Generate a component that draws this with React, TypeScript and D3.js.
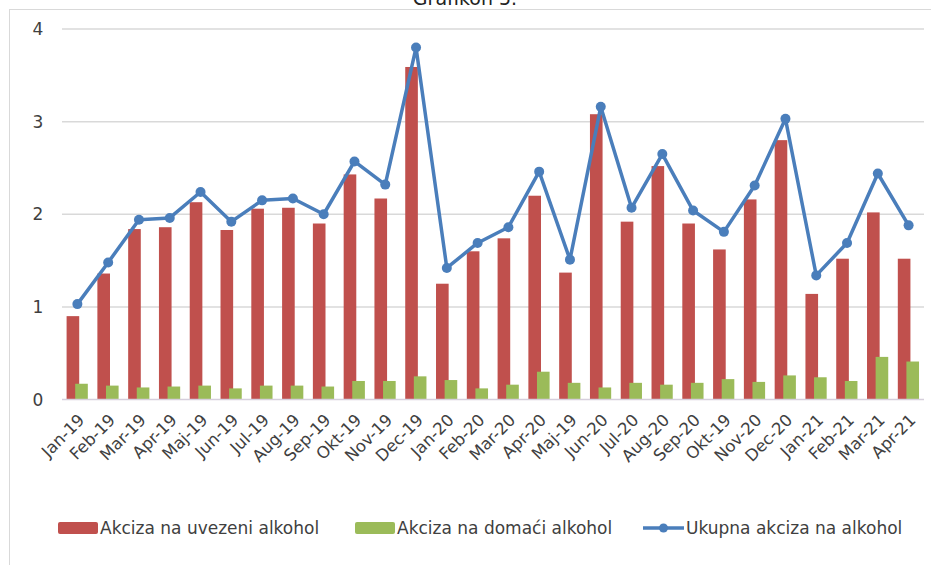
import React from "react";
import * as d3 from "d3";

const categories = [
  "Jan-19", "Feb-19", "Mar-19", "Apr-19", "Maj-19", "Jun-19", "Jul-19", "Aug-19",
  "Sep-19", "Okt-19", "Nov-19", "Dec-19", "Jan-20", "Feb-20", "Mar-20", "Apr-20",
  "Maj-19", "Jun-20", "Jul-20", "Aug-20", "Sep-20", "Okt-19", "Nov-20", "Dec-20",
  "Jan-21", "Feb-21", "Mar-21", "Apr-21",
];

const imported = [
  0.9, 1.36, 1.84, 1.86, 2.13, 1.83, 2.06, 2.07, 1.9, 2.43, 2.17, 3.59, 1.25, 1.6,
  1.74, 2.2, 1.37, 3.08, 1.92, 2.52, 1.9, 1.62, 2.16, 2.8, 1.14, 1.52, 2.02, 1.52,
];

const domestic = [
  0.17, 0.15, 0.13, 0.14, 0.15, 0.12, 0.15, 0.15, 0.14, 0.2, 0.2, 0.25, 0.21, 0.12,
  0.16, 0.3, 0.18, 0.13, 0.18, 0.16, 0.18, 0.22, 0.19, 0.26, 0.24, 0.2, 0.46, 0.41,
];

const total = [
  1.03, 1.48, 1.94, 1.96, 2.24, 1.92, 2.15, 2.17, 2.0, 2.57, 2.32, 3.8, 1.42, 1.69,
  1.86, 2.46, 1.51, 3.16, 2.07, 2.65, 2.04, 1.81, 2.31, 3.03, 1.34, 1.69, 2.44, 1.88,
];

const yTicks = [0, 1, 2, 3, 4];

const seriesNames = [
  "Akciza na uvezeni alkohol",
  "Akciza na domaći alkohol",
  "Ukupna akciza na alkohol",
];

const RED = "#c0504d";
const GREEN = "#9bbb59";
const BLUE = "#4a7ebb";
const FONT = "'DejaVu Sans', Verdana, sans-serif";

export default function App() {
  const W = 931;
  const H = 565;
  const x = d3.scaleBand<string>().domain(categories.map((c, i) => c + "|" + i)).range([62, 924]);
  const y = d3.scaleLinear().domain([0, 4]).range([399.5, 29]);
  const step = x.step();
  const barW = step * 0.41;
  const cx = (i: number) => (x(categories[i] + "|" + i) as number) + step / 2;

  const line = d3
    .line<number>()
    .x((_, i) => cx(i))
    .y((d) => y(d));

  return (
    <svg width={W} height={H} style={{ position: "absolute", left: 0, top: 0 }}>
      <rect x={0} y={0} width={W} height={H} fill="#ffffff" />
      <text x={465} y={5} textAnchor="middle" fontFamily={FONT} fontSize={19} fill="#222">
        Grafikon 5.
      </text>
      <rect x={9.5} y={9.5} width={930} height={570} fill="none" stroke="#d9d9d9" strokeWidth={1} />

      {yTicks.map((t) => (
        <g key={t}>
          {t > 0 && (
            <line x1={62} x2={924} y1={y(t)} y2={y(t)} stroke="#d9d9d9" strokeWidth={1.5} />
          )}
          <text
            x={38}
            y={y(t)}
            dy="0.36em"
            textAnchor="middle"
            fontFamily={FONT}
            fontSize={17}
            fill="#404040"
          >
            {t}
          </text>
        </g>
      ))}

      {imported.map((v, i) => (
        <rect
          key={"r" + i}
          x={cx(i) - 10.8}
          y={y(v)}
          width={barW}
          height={y(0) - y(v)}
          fill={RED}
        />
      ))}
      {domestic.map((v, i) => (
        <rect
          key={"g" + i}
          x={cx(i) - 2.2}
          y={y(v)}
          width={barW}
          height={y(0) - y(v)}
          fill={GREEN}
        />
      ))}

      <line x1={62} x2={924} y1={y(0)} y2={y(0)} stroke="#d6cfdc" strokeWidth={1.5} />

      <path d={line(total) || ""} fill="none" stroke={BLUE} strokeWidth={3.5} strokeLinejoin="round" />
      {total.map((v, i) => (
        <circle key={"c" + i} cx={cx(i)} cy={y(v)} r={5} fill={BLUE} />
      ))}

      {categories.map((c, i) => (
        <text
          key={"xl" + i}
          transform={`translate(${cx(i) + 4},${417}) rotate(-45)`}
          textAnchor="end"
          dy="0.35em"
          fontFamily={FONT}
          fontSize={16.5}
          fill="#404040"
        >
          {c}
        </text>
      ))}

      <g fontFamily={FONT} fontSize={17} fill="#404040">
        <rect x={58} y={522} width={40} height={12} rx={2} fill={RED} />
        <text x={100} y={528} dy="0.35em">{seriesNames[0]}</text>
        <rect x={355} y={522} width={40} height={12} rx={2} fill={GREEN} />
        <text x={397} y={528} dy="0.35em">{seriesNames[1]}</text>
        <line x1={643} x2={684} y1={528} y2={528} stroke={BLUE} strokeWidth={3.5} />
        <circle cx={663.5} cy={528} r={4.5} fill={BLUE} />
        <text x={686} y={528} dy="0.35em">{seriesNames[2]}</text>
      </g>
    </svg>
  );
}
